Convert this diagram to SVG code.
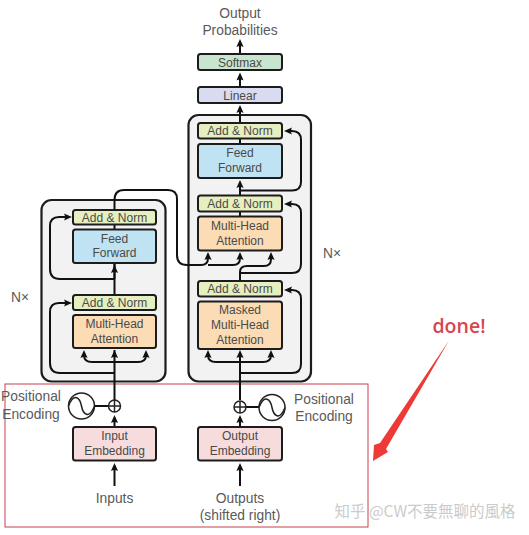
<svg xmlns="http://www.w3.org/2000/svg" width="529" height="535" viewBox="0 0 529 535">
<style>
text{font-family:"Liberation Sans",Arial,sans-serif;font-size:12px;fill:#4a4a4a;text-anchor:middle}
.big{font-size:13.8px;fill:#5a5a5a}
.panel{fill:#f2f2f2;stroke:#1c1c1c;stroke-width:2.2}
.b{stroke:#1c1c1c;stroke-width:2}
.an{fill:#e6efc0}.ff{fill:#bfe3f2}.mh{fill:#fbdcb4}.em{fill:#f6dcdc}
.c{fill:none;stroke:#111;stroke-width:2}
.h{fill:#111}
</style>
<defs>
<path id="up" d="M0 0L-3.600 8Q0 6 3.600 8Z"/>
<path id="rt" d="M0 0L-8 -3.600Q-6 0 -8 3.600Z"/>
<path id="lt" d="M0 0L8 -3.600Q6 0 8 3.600Z"/>
</defs>
<rect x="5" y="384" width="363" height="143" fill="none" stroke="#c8404e" stroke-width="1"/>
<g id="enc-panel"><rect class="panel" x="41.500" y="200" width="124" height="181.500" rx="10"/></g>
<g id="dec-panel"><rect class="panel" x="188.500" y="115" width="122.500" height="266.500" rx="10"/></g>
<g id="connectors">
<path class="c" d="M114.500 400V350M114.500 279V200Q114.500 190 124 190H168Q177 190 177 199V255Q177 265 187 265H201Q208 265 208 258M208 265H233Q240 265 240 258"/>
<path class="c" d="M114.500 373H60Q50 373 50 363V312Q50 303 59 303H65"/>
<path class="c" d="M114.500 279H60Q50 279 50 269V226Q50 217 59 217H65"/>
<path class="c" d="M114.500 295V264"/>
<path class="c" d="M114.500 362H92Q84 362 84 355M114.500 362H138Q146 362 146 355"/>
<path class="c" d="M114.500 486V468M240 486V468"/>
<path class="c" d="M114.500 427V420M240 427V420"/>
<path class="c" d="M240 400V354"/>
<path class="c" d="M240 373H292Q301 373 301 364V299Q301 290 292 290H290"/>
<path class="c" d="M240 362H216Q208 362 208 355M240 362H263Q271 362 271 355"/>
<path class="c" d="M240 281V272Q240 266 247 266H264Q271 266 271 259"/>
<path class="c" d="M240 273H292Q301 273 301 264V213Q301 204 292 204H290"/>
<path class="c" d="M240 216V186"/>
<path class="c" d="M240 190.500H292Q301 190.500 301 182V140Q301 131 292 131H290"/>
<path class="c" d="M240 144V123M240 123V110M240 87V78M240 54V45"/>
<path class="c" d="M94.500 406H108M246 407H259"/>
<g class="h">
<use href="#up" x="114.500" y="463"/><use href="#up" x="240" y="463"/>
<use href="#up" x="114.500" y="415"/><use href="#up" x="240" y="415"/>
<use href="#up" x="84" y="350"/><use href="#up" x="114.500" y="350"/><use href="#up" x="146" y="350"/>
<use href="#up" x="208" y="350"/><use href="#up" x="240" y="350"/><use href="#up" x="271" y="350"/>
<use href="#up" x="114.500" y="265"/>
<use href="#up" x="208" y="252"/><use href="#up" x="240" y="252"/><use href="#up" x="271" y="252"/>
<use href="#up" x="240" y="180"/><use href="#up" x="240" y="105"/><use href="#up" x="240" y="72.500"/><use href="#up" x="240" y="39"/>
<use href="#rt" x="72" y="303"/><use href="#rt" x="72" y="217"/>
<use href="#lt" x="284" y="290"/><use href="#lt" x="284" y="204"/><use href="#lt" x="284" y="131"/>
</g>
</g>
<g id="softmax"><rect class="b" x="198" y="54" width="84" height="16" rx="2.500" fill="#c9e5cf"/><text x="240" y="66.500">Softmax</text></g>
<g id="linear"><rect class="b" x="198" y="87" width="84" height="16" rx="2.500" fill="#d9dcf0"/><text x="240" y="99.500">Linear</text></g>
<g id="dec-addnorm3"><rect class="b an" x="198" y="123" width="84" height="15.500" rx="2.500"/><text x="240" y="135">Add &amp; Norm</text></g>
<g id="dec-feed"><rect class="b ff" x="198" y="144" width="84" height="34" rx="2.500"/><text x="240" y="157">Feed</text><text x="240" y="172">Forward</text></g>
<g id="dec-addnorm2"><rect class="b an" x="198" y="195.500" width="84" height="16" rx="2.500"/><text x="240" y="208">Add &amp; Norm</text></g>
<g id="dec-attn"><rect class="b mh" x="198" y="216.500" width="84" height="34" rx="2.500"/><text x="240" y="230">Multi-Head</text><text x="240" y="245">Attention</text></g>
<g id="dec-addnorm1"><rect class="b an" x="198" y="281" width="84" height="15.500" rx="2.500"/><text x="240" y="293">Add &amp; Norm</text></g>
<g id="dec-masked"><rect class="b mh" x="198" y="301.500" width="84" height="47.500" rx="2.500"/><text x="240" y="314">Masked</text><text x="240" y="329">Multi-Head</text><text x="240" y="344">Attention</text></g>
<g id="enc-addnorm2"><rect class="b an" x="73" y="210" width="83" height="14.500" rx="2.500"/><text x="114.500" y="221.500">Add &amp; Norm</text></g>
<g id="enc-feed"><rect class="b ff" x="73" y="229.500" width="83" height="33.500" rx="2.500"/><text x="114.500" y="242.500">Feed</text><text x="114.500" y="257">Forward</text></g>
<g id="enc-addnorm1"><rect class="b an" x="73" y="295" width="83" height="15" rx="2.500"/><text x="114.500" y="307">Add &amp; Norm</text></g>
<g id="enc-attn"><rect class="b mh" x="73" y="315" width="83" height="33" rx="2.500"/><text x="114.500" y="328">Multi-Head</text><text x="114.500" y="343">Attention</text></g>
<g id="input-embedding"><rect class="b em" x="73" y="427" width="83" height="33.500" rx="2.500"/><text x="114.500" y="440">Input</text><text x="114.500" y="455">Embedding</text></g>
<g id="output-embedding"><rect class="b em" x="198" y="427" width="84" height="33.500" rx="2.500"/><text x="240" y="440">Output</text><text x="240" y="455">Embedding</text></g>
<g id="enc-pos" fill="none" stroke="#222" stroke-width="1.500">
<circle cx="114.500" cy="406" r="6" fill="#fff"/><path d="M108.500 406H120.500M114.500 400V412"/>
<circle cx="81.500" cy="406" r="13" fill="#fff"/><path d="M68.500 406C74 392 80 398 81.500 406C83 414 89 420 94.500 406"/>
</g>
<g id="dec-pos" fill="none" stroke="#222" stroke-width="1.500">
<circle cx="240" cy="407" r="6" fill="#fff"/><path d="M234 407H246M240 401V413"/>
<circle cx="272" cy="407.500" r="13" fill="#fff"/><path d="M259 407.500C264.500 393.500 270.500 399.500 272 407.500C273.500 415.500 279.500 421.500 285 407.500"/>
</g>
<g id="labels">
<text class="big" x="240" y="18">Output</text>
<text class="big" x="240" y="35">Probabilities</text>
<text class="big" x="332" y="258">N×</text>
<text class="big" x="20" y="302">N×</text>
<text class="big" x="31" y="401">Positional</text>
<text class="big" x="31" y="419">Encoding</text>
<text class="big" x="324" y="404">Positional</text>
<text class="big" x="324" y="421">Encoding</text>
<text class="big" x="114.500" y="503">Inputs</text>
<text class="big" x="240" y="503">Outputs</text>
<text class="big" x="240" y="520">(shifted right)</text>
</g>
<g id="annotation">
<text x="459" y="333" style="font-family:'Open Sans',sans-serif;font-size:19.500px;font-weight:600;fill:#d4474f">done!</text>
<path d="M449 340.500L386 449L388 452L373 461L374 445L380 443Z" fill="#ee3a36"/>
</g>
<text x="425" y="517" style="font-family:'Noto Sans CJK SC','Noto Sans',sans-serif;font-size:15.500px;fill:#cbcbcb">知乎 @CW不要無聊的風格</text>
</svg>
